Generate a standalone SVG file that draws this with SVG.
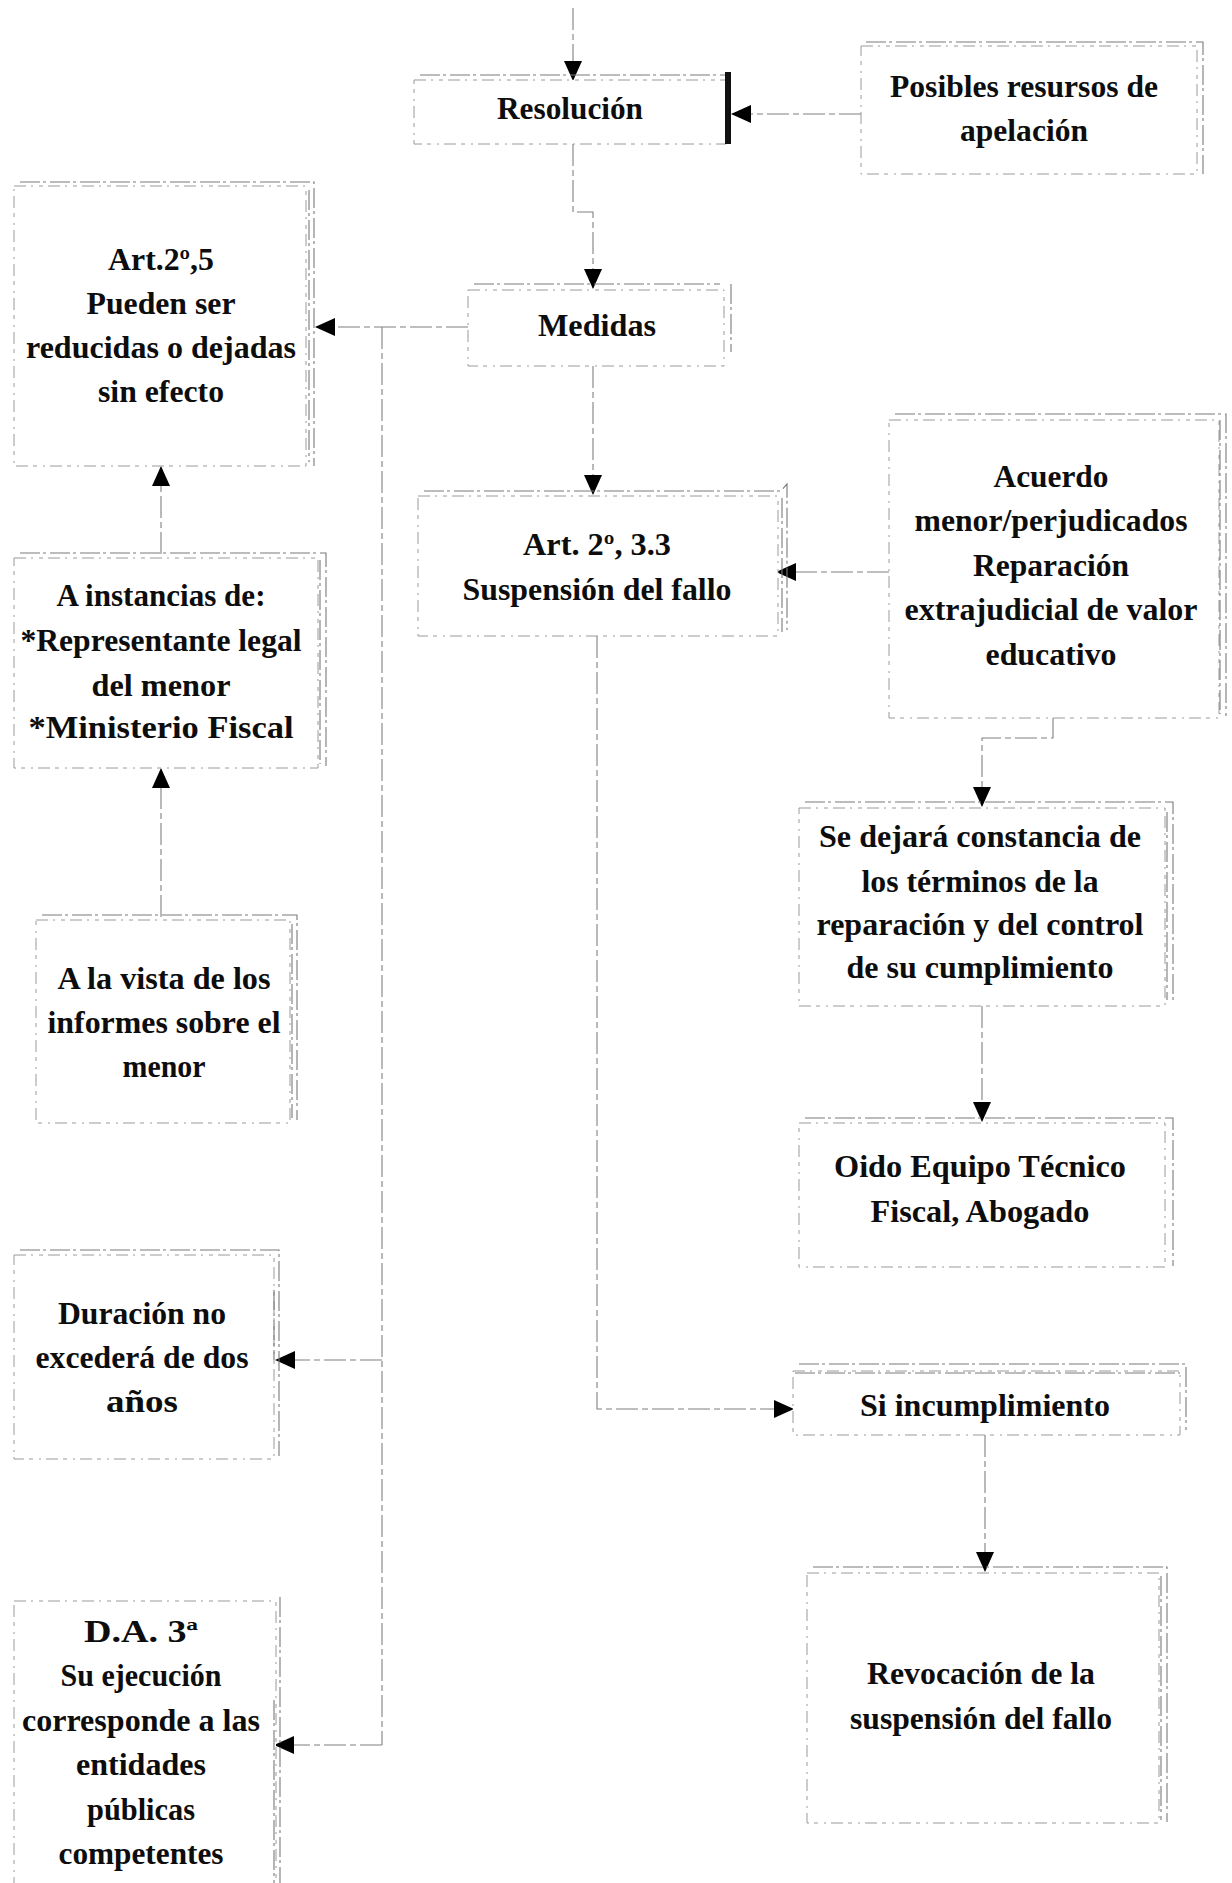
<svg xmlns="http://www.w3.org/2000/svg" width="1232" height="1883" viewBox="0 0 1232 1883">
<defs>
<marker id="ah" markerUnits="userSpaceOnUse" markerWidth="20" markerHeight="18" viewBox="0 0 20 18" refX="19" refY="9" orient="auto">
<path d="M0,0 L20,9 L0,18 Z" fill="#000"/>
</marker>
</defs>
<style>
.bx{fill:#fff;stroke:#9a9a9a;stroke-width:1;stroke-dasharray:12 5 2 6 4 5}
.sh{fill:none;stroke:#7a7a7a;stroke-width:1.1;stroke-dasharray:20 3 3 4}
.cn{fill:none;stroke:#808080;stroke-width:1.1;stroke-dasharray:22 4 6 4}
text{font-family:"Liberation Serif","Times New Roman",serif;font-weight:bold;font-size:31px;fill:#0d0d0d;text-anchor:middle}
</style>
<rect width="1232" height="1883" fill="#fff"/>

<g id="connectors">
<path class="cn" d="M573,8 V80" marker-end="url(#ah)"/>
<path class="cn" d="M861,114 H732" marker-end="url(#ah)"/>
<path class="cn" d="M573,144 V212 H593 V288" marker-end="url(#ah)"/>
<path class="cn" d="M468,327 H316" marker-end="url(#ah)"/>
<path class="cn" d="M382,327 V1745"/>
<path class="cn" d="M382,1360 H276" marker-end="url(#ah)"/>
<path class="cn" d="M382,1745 H275" marker-end="url(#ah)"/>
<path class="cn" d="M161,554 V467" marker-end="url(#ah)"/>
<path class="cn" d="M161,917 V769" marker-end="url(#ah)"/>
<path class="cn" d="M593,366 V494" marker-end="url(#ah)"/>
<path class="cn" d="M889,572 H777" marker-end="url(#ah)"/>
<path class="cn" d="M1053,718 V738 H982 V806" marker-end="url(#ah)"/>
<path class="cn" d="M982,1006 V1121" marker-end="url(#ah)"/>
<path class="cn" d="M597,636 V1409 H793" marker-end="url(#ah)"/>
<path class="cn" d="M985,1435 V1571" marker-end="url(#ah)"/>
</g>

<g id="resolucion">
<rect class="bx" x="414" y="80" width="312" height="64"/>
<path class="sh" d="M420,75 H729"/>
<rect x="725" y="72" width="6" height="72" fill="#111"/>
<text x="570" y="119" textLength="146" lengthAdjust="spacingAndGlyphs">Resolución</text>
</g>

<g id="posibles">
<rect class="bx" x="861" y="46" width="336" height="128"/>
<path class="sh" d="M866,42 H1203 V174"/>
<text x="1024" y="97" textLength="268" lengthAdjust="spacingAndGlyphs">Posibles resursos de</text>
<text x="1024" y="141" textLength="128" lengthAdjust="spacingAndGlyphs">apelación</text>
</g>

<g id="art25">
<rect class="bx" x="14" y="186" width="292" height="280"/>
<path class="sh" d="M20,182 H314 V466"/>
<path class="sh" d="M309,190 V462"/>
<text x="161" y="270" textLength="106" lengthAdjust="spacingAndGlyphs">Art.2º,5</text>
<text x="161" y="314" textLength="149" lengthAdjust="spacingAndGlyphs">Pueden ser</text>
<text x="161" y="358" textLength="270" lengthAdjust="spacingAndGlyphs">reducidas o dejadas</text>
<text x="161" y="402" textLength="126" lengthAdjust="spacingAndGlyphs">sin efecto</text>
</g>

<g id="medidas">
<rect class="bx" x="468" y="290" width="256" height="76"/>
<path class="sh" d="M474,284 H720"/>
<path class="sh" d="M731,284 V352"/>
<text x="597" y="336" textLength="118" lengthAdjust="spacingAndGlyphs">Medidas</text>
</g>

<g id="art233">
<rect class="bx" x="418" y="496" width="360" height="140"/>
<path class="sh" d="M424,491 H781 L787,484 V630"/>
<path class="sh" d="M782,498 V632"/>
<text x="597" y="555" textLength="148" lengthAdjust="spacingAndGlyphs">Art. 2º, 3.3</text>
<text x="597" y="600" textLength="269" lengthAdjust="spacingAndGlyphs">Suspensión del fallo</text>
</g>

<g id="acuerdo">
<rect class="bx" x="889" y="420" width="330" height="298"/>
<path class="sh" d="M895,414 H1226 V716"/>
<path class="sh" d="M1220,420 V714"/>
<text x="1051" y="487" textLength="115" lengthAdjust="spacingAndGlyphs">Acuerdo</text>
<text x="1051" y="531" textLength="273" lengthAdjust="spacingAndGlyphs">menor/perjudicados</text>
<text x="1051" y="576" textLength="156" lengthAdjust="spacingAndGlyphs">Reparación</text>
<text x="1051" y="620" textLength="293" lengthAdjust="spacingAndGlyphs">extrajudicial de valor</text>
<text x="1051" y="665" textLength="131" lengthAdjust="spacingAndGlyphs">educativo</text>
</g>

<g id="instancias">
<rect class="bx" x="14" y="558" width="304" height="210"/>
<path class="sh" d="M20,553 H326 V766"/>
<path class="sh" d="M320,560 V764"/>
<text x="161" y="606" textLength="209" lengthAdjust="spacingAndGlyphs">A instancias de:</text>
<text x="161" y="651" textLength="281" lengthAdjust="spacingAndGlyphs">*Representante legal</text>
<text x="161" y="696" textLength="139" lengthAdjust="spacingAndGlyphs">del menor</text>
<text x="161" y="738" textLength="265" lengthAdjust="spacingAndGlyphs">*Ministerio Fiscal</text>
</g>

<g id="vista">
<rect class="bx" x="36" y="920" width="254" height="203"/>
<path class="sh" d="M42,915 H297 V1120"/>
<path class="sh" d="M292,924 V1118"/>
<text x="164" y="989" textLength="213" lengthAdjust="spacingAndGlyphs">A la vista de los</text>
<text x="164" y="1033" textLength="233" lengthAdjust="spacingAndGlyphs">informes sobre el</text>
<text x="164" y="1077" textLength="83" lengthAdjust="spacingAndGlyphs">menor</text>
</g>

<g id="constancia">
<rect class="bx" x="799" y="808" width="366" height="198"/>
<path class="sh" d="M805,802 H1173 V1004"/>
<path class="sh" d="M1167,812 V1000"/>
<text x="980" y="847" textLength="322" lengthAdjust="spacingAndGlyphs">Se dejará constancia de</text>
<text x="980" y="892" textLength="237" lengthAdjust="spacingAndGlyphs">los términos de la</text>
<text x="980" y="935" textLength="327" lengthAdjust="spacingAndGlyphs">reparación y del control</text>
<text x="980" y="978" textLength="267" lengthAdjust="spacingAndGlyphs">de su cumplimiento</text>
</g>

<g id="oido">
<rect class="bx" x="799" y="1123" width="366" height="144"/>
<path class="sh" d="M805,1118 H1173 V1266"/>
<text x="980" y="1177" textLength="292" lengthAdjust="spacingAndGlyphs">Oido Equipo Técnico</text>
<text x="980" y="1222" textLength="219" lengthAdjust="spacingAndGlyphs">Fiscal, Abogado</text>
</g>

<g id="duracion">
<rect class="bx" x="14" y="1255" width="260" height="204"/>
<path class="sh" d="M20,1250 H279 V1456"/>
<path class="sh" d="M274,1290 V1360"/>
<text x="142" y="1324" textLength="168" lengthAdjust="spacingAndGlyphs">Duración no</text>
<text x="142" y="1368" textLength="213" lengthAdjust="spacingAndGlyphs">excederá de dos</text>
<text x="142" y="1412" textLength="72" lengthAdjust="spacingAndGlyphs">años</text>
</g>

<g id="incumplimiento">
<rect class="bx" x="793" y="1371" width="387" height="64"/>
<path class="sh" d="M799,1364 H1186 V1430"/>
<path class="sh" d="M795,1373 H1180"/>
<text x="985" y="1416" textLength="250" lengthAdjust="spacingAndGlyphs">Si incumplimiento</text>
</g>

<g id="da3">
<rect class="bx" x="14" y="1601" width="262" height="290"/>
<path class="sh" d="M280,1597 V1883"/>
<path class="sh" d="M274,1700 V1883"/>
<text x="141" y="1642" textLength="114" lengthAdjust="spacingAndGlyphs">D.A. 3ª</text>
<text x="141" y="1686" textLength="161" lengthAdjust="spacingAndGlyphs">Su ejecución</text>
<text x="141" y="1731" textLength="238" lengthAdjust="spacingAndGlyphs">corresponde a las</text>
<text x="141" y="1775" textLength="130" lengthAdjust="spacingAndGlyphs">entidades</text>
<text x="141" y="1820" textLength="108" lengthAdjust="spacingAndGlyphs">públicas</text>
<text x="141" y="1864" textLength="165" lengthAdjust="spacingAndGlyphs">competentes</text>
</g>

<g id="revocacion">
<rect class="bx" x="807" y="1573" width="352" height="250"/>
<path class="sh" d="M813,1567 H1167 V1822"/>
<path class="sh" d="M1161,1576 V1820"/>
<text x="981" y="1684" textLength="228" lengthAdjust="spacingAndGlyphs">Revocación de la</text>
<text x="981" y="1729" textLength="262" lengthAdjust="spacingAndGlyphs">suspensión del fallo</text>
</g>
</svg>
